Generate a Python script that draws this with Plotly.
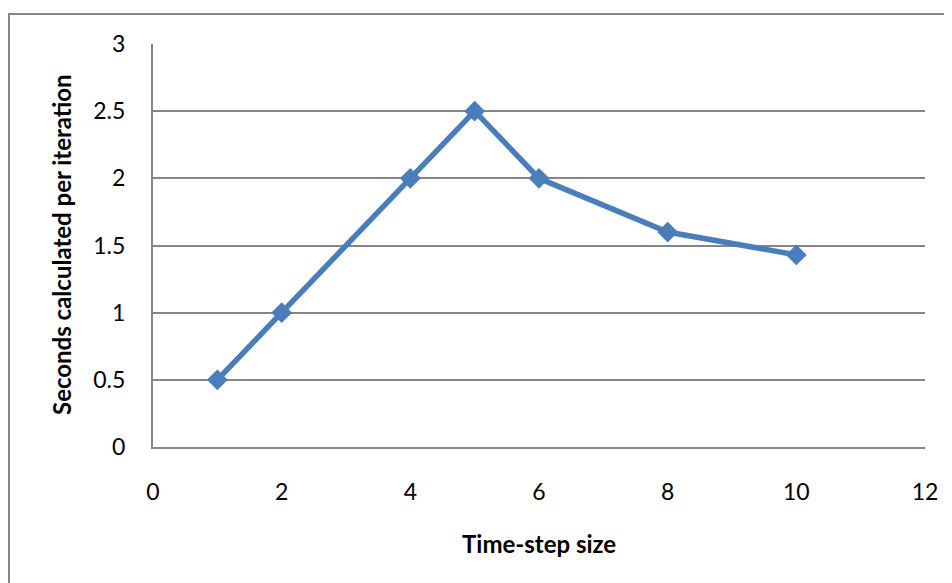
import plotly.graph_objects as go

time_step = [1, 2, 4, 5, 6, 8, 10]
seconds_per_iter = [0.5, 1.0, 2.0, 2.5, 2.0, 1.6, 1.43]
x_ticks = [0, 2, 4, 6, 8, 10, 12]
y_ticks = [0, 0.5, 1, 1.5, 2, 2.5, 3]
y_tick_text = ["0", "0.5", "1", "1.5", "2", "2.5", "3"]

FONT = "Lato"
GRID = "#868686"
BLUE = "#4A7EBB"

fig = go.Figure()
fig.add_trace(go.Scatter(
    x=time_step, y=seconds_per_iter, mode="lines+markers",
    line=dict(color=BLUE, width=5.5),
    marker=dict(symbol="diamond", size=16, color=BLUE),
    showlegend=False, cliponaxis=False,
))

OFF = 8  # page body margin
W, H = 952, 583
ml, mt = 153 - OFF, 44 - OFF
pr, pb = 925 - OFF, 447 - OFF
mr, mb = W - pr, H - pb
pw, ph = W - ml - mr, H - mt - mb

def px_x(p):
    return (p - OFF - ml) / pw

def px_y(p):
    return 1 - (p - OFF - mt) / ph

fig.update_layout(
    width=W, height=H,
    margin=dict(l=ml, r=mr, t=mt, b=mb),
    paper_bgcolor="white", plot_bgcolor="white",
    font=dict(family=FONT, size=23, color="black"),
    xaxis=dict(range=[0, 12], tickvals=x_ticks, showgrid=False,
               showline=True, linecolor=GRID, linewidth=2, zeroline=False,
               ticks="", ticklabelstandoff=23, fixedrange=True),
    yaxis=dict(range=[0, 3], tickvals=y_ticks, ticktext=y_tick_text,
               showgrid=True, gridcolor=GRID, gridwidth=1.5,
               showline=True, linecolor=GRID, linewidth=2, zeroline=False,
               ticks="", ticklabelstandoff=21, fixedrange=True),
    annotations=[
        dict(text="<b>Time-step size</b>", x=px_x(539), y=px_y(543),
             xref="paper", yref="paper", showarrow=False,
             xanchor="center", yanchor="middle", font=dict(size=24)),
        dict(text="<b>Seconds calculated per iteration</b>", x=px_x(62), y=px_y(245),
             xref="paper", yref="paper", showarrow=False, textangle=-90,
             xanchor="center", yanchor="middle", font=dict(size=24)),
    ],
    shapes=[
        dict(type="rect", xref="paper", yref="paper",
             x0=px_x(9), x1=px_x(970), y0=px_y(600), y1=px_y(14),
             line=dict(color="#868686", width=2), fillcolor="rgba(0,0,0,0)",
             layer="below"),
    ],
)

fig.write_html("out.html")
